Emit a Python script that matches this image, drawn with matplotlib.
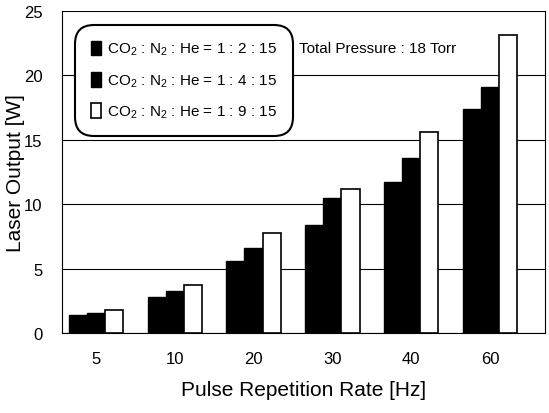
import numpy as np
import matplotlib.pyplot as plt

# Datos
rates = ['5', '10', '20', '30', '40', '60']
ratio_1_2_15 = [1.4, 2.8, 5.6, 8.4, 11.7, 17.4]
ratio_1_4_15 = [1.55, 3.25, 6.6, 10.5, 13.6, 19.1]
ratio_1_9_15 = [1.8, 3.7, 7.8, 11.2, 15.6, 23.1]
labels = [r'CO$_2$ : N$_2$ : He = 1 : 2 : 15',
          r'CO$_2$ : N$_2$ : He = 1 : 4 : 15',
          r'CO$_2$ : N$_2$ : He = 1 : 9 : 15']

plt.rcParams['font.family'] = ['Liberation Sans', 'DejaVu Sans']
plt.rcParams['mathtext.fontset'] = 'custom'
plt.rcParams['mathtext.rm'] = 'Liberation Sans'
plt.rcParams['mathtext.it'] = 'Liberation Sans'

fig = plt.figure(figsize=(5.49, 4.14), dpi=100)
ax = fig.add_axes([0.113, 0.193, 0.88, 0.778])

x = np.arange(len(rates))
w = 0.23
ax.bar(x - w, ratio_1_2_15, w, color='black', edgecolor='black', linewidth=1, label=labels[0], zorder=3)
ax.bar(x, ratio_1_4_15, w, color='black', edgecolor='black', linewidth=1, label=labels[1], zorder=3)
ax.bar(x + w, ratio_1_9_15, w, color='white', edgecolor='black', linewidth=1.2, label=labels[2], zorder=3)

ax.set_xlim(-0.43, 5.7)
ax.set_ylim(0, 25)
ax.set_yticks([0, 5, 10, 15, 20, 25])
ax.set_xticks(x)
ax.set_xticklabels(rates)
ax.tick_params(axis='both', length=0, labelsize=12)
ax.tick_params(axis='x', pad=13)
ax.tick_params(axis='y', pad=14)
ax.grid(axis='y', color='black', linewidth=0.8, zorder=0)
ax.spines['top'].set_linestyle((0, (4, 3)))
ax.spines['top'].set_linewidth(0.6)
ax.spines['right'].set_linewidth(0.8)
ax.spines['left'].set_linewidth(0.8)
ax.spines['bottom'].set_linewidth(0.8)

ax.set_xlabel('Pulse Repetition Rate [Hz]', fontsize=15, labelpad=10)
ax.set_ylabel('Laser Output [W]', fontsize=15)
ax.yaxis.set_label_coords(-0.077, 0.5)

leg = ax.legend(loc='upper left', bbox_to_anchor=(0.018, 0.97), fontsize=11,
                handlelength=0.7, handleheight=1.1, handletextpad=0.4,
                labelspacing=0.95, borderpad=0.8, fancybox=True,
                framealpha=1, edgecolor='black')
leg.get_frame().set_linewidth(1.5)
leg.get_frame().set_boxstyle('round,pad=0.2,rounding_size=1.2')
leg.set_zorder(5)

ax.text(0.49, 0.885, 'Total Pressure : 18 Torr', transform=ax.transAxes,
        fontsize=11, va='center', ha='left')

fig.savefig('out.png', dpi=100)
